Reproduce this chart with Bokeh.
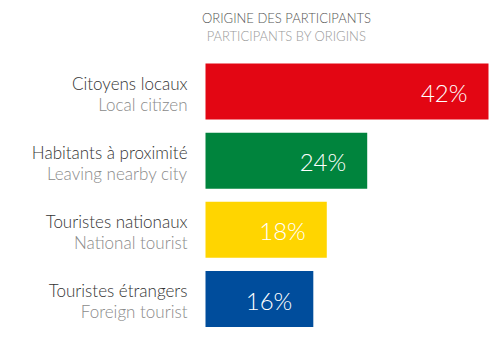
from bokeh.plotting import figure
from bokeh.models import Range1d, ColumnDataSource
from bokeh.core.properties import value
from bokeh.embed import file_html
from bokeh.resources import INLINE

categories_fr = ["Citoyens locaux", "Habitants à proximité", "Touristes nationaux", "Touristes étrangers"]
categories_en = ["Local citizen", "Leaving nearby city", "National tourist", "Foreign tourist"]
values = [42, 24, 18, 16]
labels = ["42%", "24%", "18%", "16%"]
colors = ["#E30613", "#00843D", "#FFD500", "#004D9C"]
title_fr = "ORIGINE DES PARTICIPANTS"
title_en = "PARTICIPANTS BY ORIGINS"

W, H = 500, 344
X0 = 205.0            # pixel of zero
SX = 283.0 / 42.0     # pixels per unit
Y0 = 91.0             # pixel centre of first bar
SY = 69.17            # pixels per category step

def px2x(px):
    return (px - X0) / SX

def px2y(py):
    return (py - Y0) / SY

FONT = value("Lato Light")

p = figure(width=W, height=H, output_backend="svg", toolbar_location=None,
           min_border=0, min_border_left=0, min_border_right=0,
           min_border_top=0, min_border_bottom=0,
           x_range=Range1d(px2x(0), px2x(W)),
           y_range=Range1d(px2y(H), px2y(0)))
p.axis.visible = False
p.grid.visible = False
p.outline_line_color = None
p.background_fill_color = "white"
p.border_fill_color = "white"

idx = list(range(len(values)))
src = ColumnDataSource(dict(
    y=idx, v=values, c=colors, lab=labels, fr=categories_fr, en=categories_en,
    y1=[i + px2y(82.5) for i in idx],
    y2=[i + px2y(103.5) for i in idx],
    yv=[i + px2y(92) for i in idx],
    xv=[v - 21.0 / SX for v in values],
))

p.hbar(y="y", left=0, right="v", height=56.0 / SY, fill_color="c", line_color=None, source=src)

p.text(x=px2x(187), y="y1", text="fr", source=src, text_align="right",
       text_baseline="middle", text_font=FONT, text_font_size="17px", text_color="#333333")
p.text(x=px2x(187), y="y2", text="en", source=src, text_align="right",
       text_baseline="middle", text_font=FONT, text_font_size="17px", text_color="#8a8a8a")
p.text(x="xv", y="yv", text="lab", source=src, text_align="right",
       text_baseline="middle", text_font=FONT, text_font_size="24px", text_color="white")

p.text(x=[px2x(286)], y=[px2y(17)], text=[title_fr], text_align="center",
       text_baseline="middle", text_font=FONT, text_font_size="13px", text_color="#555555")
p.text(x=[px2x(286)], y=[px2y(35.5)], text=[title_en], text_align="center",
       text_baseline="middle", text_font=FONT, text_font_size="13px", text_color="#999999")

open("out.html", "w").write(file_html(p, INLINE))
